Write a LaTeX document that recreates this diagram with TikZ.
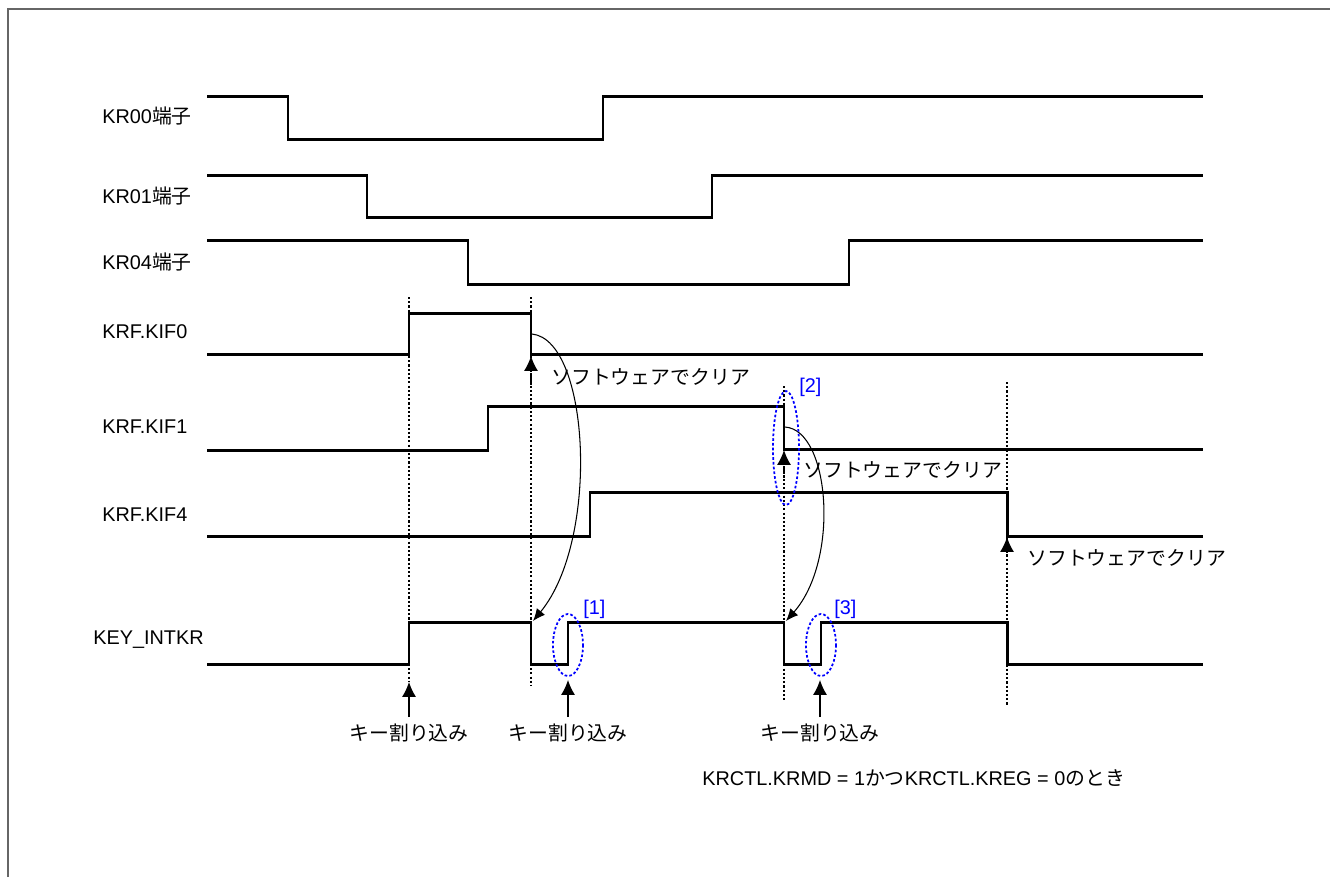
\documentclass[tikz,border=0pt]{standalone}
\usepackage{fontspec}
\setmainfont{Liberation Sans}
\newfontfamily\jp{Noto Sans CJK JP}
\usetikzlibrary{arrows.meta,positioning}

\begin{document}
\begin{tikzpicture}[x=0.02cm,y=-0.02cm,>={Latex[length=8.5pt,width=8pt]},
    sig/.style={line width=1.7pt},
    guide/.style={dash pattern=on 1.2pt off 1.2pt,line width=0.8pt},
    lbl/.style={anchor=west,inner sep=0pt,font=\fontsize{11.3}{13}\selectfont},
    jtxt/.style={inner sep=0pt,font=\fontsize{11.3}{13}\selectfont\jp},
    tag/.style={anchor=west,inner sep=0pt,text=blue,font=\fontsize{11.3}{13}\selectfont},
    ring/.style={draw=blue,dash pattern=on 1.5pt off 1.2pt,line width=1pt}]
    \useasboundingbox (0,0) rectangle (1330,877);
    \draw[gray!80!black,line width=0.8pt] (8,877) -- (8,9) -- (1330,9);
    % signal names
    \node[lbl] (n0) at (102,116) {KR00{\jp 端子}};
    \node[lbl] (n1) at (102,196) {KR01{\jp 端子}};
    \node[lbl] (n4) at (102,262) {KR04{\jp 端子}};
    \node[lbl] (f0) at (102,332) {KRF.KIF0};
    \node[lbl] (f1) at (102,427) {KRF.KIF1};
    \node[lbl] (f4) at (102,515) {KRF.KIF4};
    \node[lbl] (ki) at (93,640) {KEY\_INTKR};
    % waveforms
    \draw[sig] (207,96) -- (288,96) -- (288,139) -- (603,139) -- (603,96) -- (1203,96);
    \draw[sig] (207,175) -- (367,175) -- (367,217) -- (712,217) -- (712,175) -- (1203,175);
    \draw[sig] (207,240) -- (468,240) -- (468,284) -- (849,284) -- (849,240) -- (1203,240);
    \draw[sig] (207,354) -- (409,354) -- (409,313) -- (531,313) -- (531,354) -- (1203,354);
    \draw[sig] (207,450) -- (488,450) -- (488,406) -- (784,406) -- (784,449) -- (1203,449);
    \draw[sig] (207,536) -- (590,536) -- (590,492) -- (1007,492) -- (1007,536) -- (1203,536);
    \draw[sig] (207,664) -- (409,664) -- (409,622) -- (531,622) -- (531,664) -- (568,664)
      -- (568,622) -- (784,622) -- (784,664) -- (821,664) -- (821,622) -- (1007,622)
      -- (1007,664) -- (1203,664);
    % timing guides
    \draw[guide] (409,297) -- (409,681);
    \draw[guide] (531,297) -- (531,685);
    \draw[guide] (784,386) -- (784,700);
    \draw[guide] (1007,382) -- (1007,705);
    \draw[guide,->] (531,385) -- (531,356);
    \draw[guide,->] (784,478) -- (784,450);
    \draw[guide,->] (1007,565) -- (1007,537);
    % software clear
    \node[jtxt,anchor=west] (c0) at (551,377) {ソフトウェアでクリア};
    \node[jtxt,anchor=west] (c1) at (803,470) {ソフトウェアでクリア};
    \node[jtxt,anchor=west] (c4) at (1027,558) {ソフトウェアでクリア};
    % flag -> interrupt
    \coordinate (e0) at (532,334);
    \coordinate (e1) at (785,427);
    \coordinate (d0) at (533,621);
    \coordinate (d1) at (786,621);
    \draw[line width=0.6pt,-{Latex[length=7pt,width=6pt]}] (e0) .. controls (590,340) and (600,540) .. (d0);
    \draw[line width=0.6pt,-{Latex[length=7pt,width=6pt]}] (e1) .. controls (830,430) and (840,560) .. (d1);
    % marks
    \draw[ring] (568,645) ellipse [x radius=15,y radius=31];
    \draw[ring] (821,645) ellipse [x radius=15,y radius=31];
    \draw[ring] (786,448) ellipse [x radius=13,y radius=57];
    \node[tag] (t1) at (583,609) {[1]};
    \node[tag] (t2) at (799,387) {[2]};
    \node[tag] (t3) at (834,609) {[3]};
    % key interrupts
    \foreach \x/\t in {409/682,568/680,820/680} {
      \coordinate (ka) at (\x,717);
      \coordinate (kb) at (\x,\t);
      \draw[line width=0.7pt,->] (ka) -- (kb);
      \node[jtxt] at (\x,733) {キー割り込み};
    }
    \node[lbl] (cond) at (702,778) {KRCTL.KRMD = 1{\jp かつ}KRCTL.KREG = 0{\jp のとき}};
\end{tikzpicture}
\end{document}
